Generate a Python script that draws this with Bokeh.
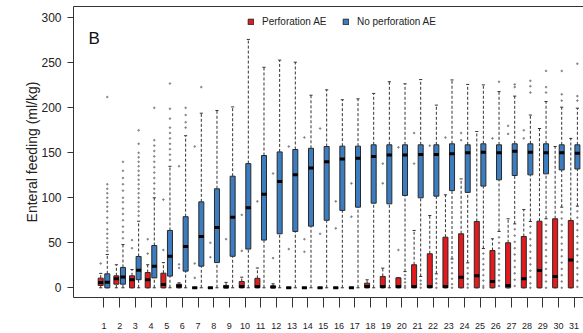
import numpy as np
from bokeh.plotting import figure
from bokeh.models import (ColumnDataSource, Range1d, LinearAxis, FixedTicker,
                          Legend, LegendItem, Label)
from bokeh.embed import file_html
from bokeh.resources import INLINE

# ---------------- data ----------------
days = list(range(1, 32))
tick_labels = [str(d) for d in days]
y_ticks = [0, 50, 100, 150, 200, 250, 300]

# Perforation AE (red)
perf_low = [0] * 31
perf_q1 = [2.6, 4, 0, 0, 0, 0, 0, 0, 0, 0, 0, 0, 0, 0, 0, 0, 0, 0, 0, 0,
           0, 0, 0, 0, 0, 0, 0, 0, 0, 0, 0]
perf_med = [6, 10, 8.9, 8.9, 3.7, 2, 0, 0, 1, 1.4, 1.5, 1, 0, 0, 0, 0, 0, 1.4, 1.4, 1.4,
            1.4, 1.4, 1.4, 11.8, 13.3, 7, 2.6, 10, 19.2, 12.6, 31]
perf_q3 = [10.7, 13.3, 13.3, 17, 16.2, 4, 0, 0, 2.6, 7, 10.5, 2, 0, 0, 0, 0, 0, 5.1, 12.6, 11.1,
           25.6, 37.8, 56.2, 60, 73.7, 41.4, 50, 57, 74, 76.7, 74.8]
perf_high = [16, 25.6, 20.3, 25.6, 28, 5.5, 0, 0, 6, 11.8, 22, 4.4, 0, 0, 0, 0, 0, 8.9, 21.8, 11.1,
             63.7, 80.3, 103.3, 121, 173.7, 54.4, 76.7, 87, 177, 157, 166]
perf_out = [[27], [], [53, 44], [54, 38], [42, 98], [135, 26, 22], [157, 27, 11], [50, 34],
            [54], [81, 41], [96], [127, 33], [157, 43], [167, 54, 40], [177, 60], [96, 66],
            [116, 79], [], [138, 116], [156, 42], [172, 138], [158], [167], [172, 164], [],
            [166], [180, 171], [175, 166], [], [], []]

# No perforation AE (blue)
nop_low = [0, 0, 0, 0, 0, 0, 0, 0, 0, 0, 0, 0, 0, 0, 0, 0, 0, 0, 0, 18,
           12.6, 15.5, 32, 27.7, 43.6, 62.6, 71, 73.7, 76.7, 89.6, 90.7]
nop_q1 = [0, 4, 9, 11, 13, 18.5, 24, 28, 35, 43, 53, 60, 62.6, 68.5, 75, 86, 89.6, 94, 93.3, 102.6,
          100, 101.8, 108, 106, 113, 120, 124.8, 125.5, 126.6, 131, 132]
nop_med = [6.2, 12, 19.6, 24, 35, 46, 57, 67, 78.5, 89, 104, 118, 125.6, 133, 140, 143, 144, 146, 147.7, 147.7,
           148, 148, 149, 150, 150.7, 150, 151.8, 150.7, 150, 150, 149.6]
nop_q3 = [15.5, 22.6, 34.8, 47, 63.7, 79, 95.5, 110, 124, 138, 147, 151, 153.7, 155, 157, 157.4, 157.4, 158.9, 158.9, 158.9,
          158.9, 158.9, 160, 158.9, 160, 158.9, 160, 160, 160, 158.9, 158.9]
nop_high = [37, 48, 74, 100, 135, 169, 194, 197, 201, 276, 245, 253, 250.7, 214, 220, 209, 210, 216, 229, 226.7,
            231.4, 203, 231, 226, 225.5, 218, 213, 192, 207, 200.7, 199.6]
nop_out = [
    [212, 115, 110, 105, 100, 95, 90, 85, 78, 72, 65, 60, 55, 50, 45, 41],
    [140, 130, 122, 115, 108, 100, 95, 88, 82, 75, 68, 62, 55],
    [175, 160, 150, 145, 140, 135, 130, 125, 120, 115, 110, 105, 100, 95, 90, 85, 80],
    [200, 164, 158, 152, 146, 140, 134, 128, 122, 116, 110, 105],
    [227, 199, 188, 178, 172, 166, 160, 154, 148, 142],
    [200, 192, 184, 178],
    [223], [], [], [], [], [], [], [], [], [], [], [], [],
    [14, 10, 6, 2, 0],
    [8, 4, 0],
    [10, 5, 0],
    [28, 22, 16, 10, 4, 0],
    [22, 16, 10, 4, 0],
    [38, 32, 26, 20, 14, 8, 2, 0],
    [229, 56, 50, 44, 38, 32, 26, 20, 14, 8, 2],
    [226, 223, 65, 58, 51, 44, 37, 30, 23, 16, 9, 2],
    [230, 224, 217, 68, 61, 54, 47, 40, 33, 26, 19, 12, 5, 0],
    [241, 223, 217, 70, 63, 56, 49, 42, 35, 28, 21, 14, 7, 0],
    [241, 215, 208, 84, 77, 70, 63, 56, 49, 42, 35, 28, 21, 14, 7, 0],
    [249, 213, 208, 85, 78, 71, 64, 57, 50, 43, 36, 29, 22, 15, 8, 1],
]

# ---------------- styling ----------------
RED = "#E41A1C"
BLUE = "#3B7DC0"
EDGE = "#2a2a2a"
BOX_W = 0.32
CAP_W = 0.2
OFFSET = 0.21
FONT = "Liberation Sans"

p = figure(width=583, height=333, output_backend="svg", toolbar_location=None,
           x_range=Range1d(-0.946, 31.6), y_range=Range1d(-10.8, 312.6),
           min_border_left=73, min_border_right=0, min_border_top=6, min_border_bottom=36)
p.outline_line_color = None
p.grid.visible = False
p.background_fill_color = "white"


def draw_group(xs, low, q1, med, q3, high, outs, shift, color):
    x = np.array(xs, dtype=float) + shift
    src = ColumnDataSource(dict(
        x=x, left=x - BOX_W / 2, right=x + BOX_W / 2,
        cl=x - CAP_W / 2, cr=x + CAP_W / 2,
        low=low, q1=q1, med=med, q3=q3, high=high))
    p.segment(x0="x", y0="q3", x1="x", y1="high", source=src,
              line_color="#333333", line_width=1, line_dash="3 2")
    p.segment(x0="x", y0="low", x1="x", y1="q1", source=src,
              line_color="#333333", line_width=1, line_dash="3 2")
    p.segment(x0="cl", y0="high", x1="cr", y1="high", source=src,
              line_color="#333333", line_width=1)
    p.segment(x0="cl", y0="low", x1="cr", y1="low", source=src,
              line_color="#333333", line_width=1)
    box = p.quad(left="left", right="right", bottom="q1", top="q3", source=src,
                 fill_color=color, line_color=EDGE, line_width=1)
    p.segment(x0="left", y0="med", x1="right", y1="med", source=src,
              line_color="black", line_width=3, line_cap="butt")
    ox, oy = [], []
    for xi, vals in zip(x, outs):
        for v in vals:
            ox.append(xi)
            oy.append(v)
    p.scatter(x=ox, y=oy, size=1.6, color="#777777", alpha=0.8, marker="circle")
    return box


r_box = draw_group(days, perf_low, perf_q1, perf_med, perf_q3, perf_high, perf_out, -OFFSET, RED)
b_box = draw_group(days, nop_low, nop_q1, nop_med, nop_q3, nop_high, nop_out, OFFSET, BLUE)

# axes
xa = p.xaxis[0]
xa.ticker = FixedTicker(ticks=days)
xa.major_label_overrides = {d: s for d, s in zip(days, tick_labels)}
xa.axis_line_color = "#333333"
xa.major_tick_line_color = "#333333"
xa.major_tick_out = 10
xa.major_tick_in = 0
xa.minor_tick_line_color = None
xa.major_label_standoff = 15
xa.major_label_text_font = FONT
xa.major_label_text_font_size = "9px"
xa.major_label_text_color = "#222222"

ya = p.yaxis[0]
ya.ticker = FixedTicker(ticks=y_ticks)
ya.axis_line_color = "#333333"
ya.major_tick_line_color = "#333333"
ya.major_tick_out = 6
ya.major_tick_in = 0
ya.minor_tick_line_color = None
ya.major_label_standoff = 6
ya.major_label_text_font = FONT
ya.major_label_text_font_size = "12px"
ya.major_label_text_color = "#222222"
ya.axis_label = "Enteral feeding (ml/kg)"
ya.axis_label_text_font = FONT
ya.axis_label_text_font_size = "14px"
ya.axis_label_text_font_style = "normal"
ya.axis_label_text_color = "#222222"
ya.axis_label_standoff = -2

top = LinearAxis(ticker=FixedTicker(ticks=[]), major_label_text_font_size="0px",
                 major_label_standoff=0, axis_line_color="#333333",
                 major_tick_line_color=None, minor_tick_line_color=None)
p.add_layout(top, "above")

# panel letter
p.add_layout(Label(x=0.01, y=277, text="B", text_font=FONT,
                   text_font_size="17px", text_color="#111111", text_baseline="alphabetic"))

legend = Legend(items=[LegendItem(label="Perforation AE", renderers=[r_box]),
                       LegendItem(label="No perforation AE", renderers=[b_box])],
                orientation="horizontal", location=(174, 269),
                glyph_width=7, glyph_height=7, label_standoff=8, label_width=70,
                label_height=14, spacing=10, padding=0, margin=0,
                border_line_color=None, background_fill_alpha=0,
                label_text_font=FONT, label_text_font_size="10px",
                label_text_color="#222222")
p.add_layout(legend)

open("out.html", "w").write(file_html(p, INLINE))
